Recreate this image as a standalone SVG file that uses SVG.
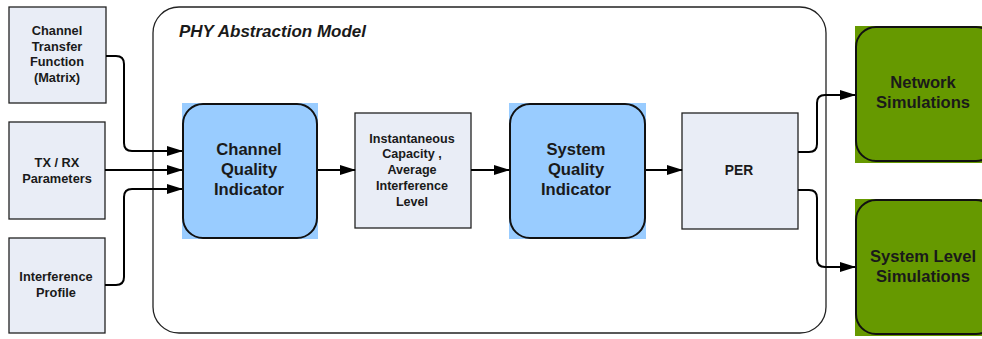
<svg xmlns="http://www.w3.org/2000/svg" width="982" height="339" viewBox="0 0 982 339">
<style>
text{font-family:"Liberation Sans",Arial,sans-serif;font-weight:bold;fill:#1a1a1a;text-anchor:middle}
.box{fill:#E9EDF6;stroke:#222;stroke-width:1.3}
.s{font-size:12.8px}
.m{font-size:12.6px}
.l{font-size:16.6px}
.blue{fill:#99CCFF}
.green{fill:#669900}
.rr{fill:none;stroke:#111;stroke-width:2}
.c{fill:none;stroke:#000;stroke-width:2;marker-end:url(#ah)}
</style>
<defs>
<marker id="ah" markerWidth="16" markerHeight="10" refX="15" refY="5" orient="auto" markerUnits="userSpaceOnUse">
<path d="M0,0 L16,5 L0,10 Z" fill="#000"/>
</marker>
</defs>
<g id="container">
<rect x="153" y="7" width="673" height="326" rx="26" fill="#fff" stroke="#222" stroke-width="1.3"/>
<text x="179" y="37" style="font-size:16.5px;font-style:italic;text-anchor:start" textLength="187" lengthAdjust="spacingAndGlyphs">PHY Abstraction Model</text>
</g>
<g id="ctf">
<rect class="box" x="9" y="7" width="97" height="96"/>
<text class="s" x="57" y="35">Channel</text>
<text class="s" x="57" y="51">Transfer</text>
<text class="s" x="57" y="66">Function</text>
<text class="s" x="57" y="82">(Matrix)</text>
</g>
<g id="txrx">
<rect class="box" x="9" y="122" width="96" height="97"/>
<text class="s" x="57" y="167">TX / RX</text>
<text class="s" x="57" y="183">Parameters</text>
</g>
<g id="interf">
<rect class="box" x="9" y="238" width="96" height="95"/>
<text class="s" x="56" y="281">Interference</text>
<text class="s" x="56" y="297">Profile</text>
</g>
<g id="cqi">
<rect class="blue" x="182" y="103" width="136" height="136"/>
<rect class="rr" x="183" y="104" width="134" height="134" rx="20"/>
<text class="l" x="249" y="155">Channel</text>
<text class="l" x="249" y="175">Quality</text>
<text class="l" x="249" y="195">Indicator</text>
</g>
<g id="inst">
<rect class="box" x="355" y="113" width="116" height="115"/>
<text class="m" x="412" y="143">Instantaneous</text>
<text class="m" x="412" y="158">Capacity ,</text>
<text class="m" x="412" y="174">Average</text>
<text class="m" x="412" y="190">Interference</text>
<text class="m" x="412" y="206">Level</text>
</g>
<g id="sqi">
<rect class="blue" x="509" y="103" width="137" height="136"/>
<rect class="rr" x="510" y="104" width="135" height="134" rx="20"/>
<text class="l" x="576" y="155">System</text>
<text class="l" x="576" y="175">Quality</text>
<text class="l" x="576" y="195">Indicator</text>
</g>
<g id="per">
<rect class="box" x="682" y="113" width="116" height="116"/>
<text class="s" x="739" y="175" style="font-size:13.8px">PER</text>
</g>
<g id="netsim">
<rect class="green" x="855" y="26" width="127" height="137"/>
<rect class="rr" x="856" y="27" width="140" height="134" rx="20"/>
<text class="l" x="923" y="88">Network</text>
<text class="l" x="923" y="108">Simulations</text>
</g>
<g id="syssim">
<rect class="green" x="855" y="199" width="127" height="137"/>
<rect class="rr" x="856" y="200" width="140" height="134" rx="20"/>
<text class="l" x="923" y="262">System Level</text>
<text class="l" x="923" y="282">Simulations</text>
</g>
<g id="connectors">
<path class="c" d="M106,56 H116 Q124,56 124,64 V143 Q124,151 132,151 H182"/>
<path class="c" d="M105,170 H182"/>
<path class="c" d="M105,285 H116 Q124,285 124,277 V197 Q124,189 132,189 H182"/>
<path class="c" d="M318,170 H355"/>
<path class="c" d="M471,170 H509"/>
<path class="c" d="M646,170 H682"/>
<path class="c" d="M798,152 H809 Q817,152 817,144 V103 Q817,95 825,95 H855"/>
<path class="c" d="M798,190 H809 Q817,190 817,198 V259 Q817,267 825,267 H855"/>
</g>
</svg>
